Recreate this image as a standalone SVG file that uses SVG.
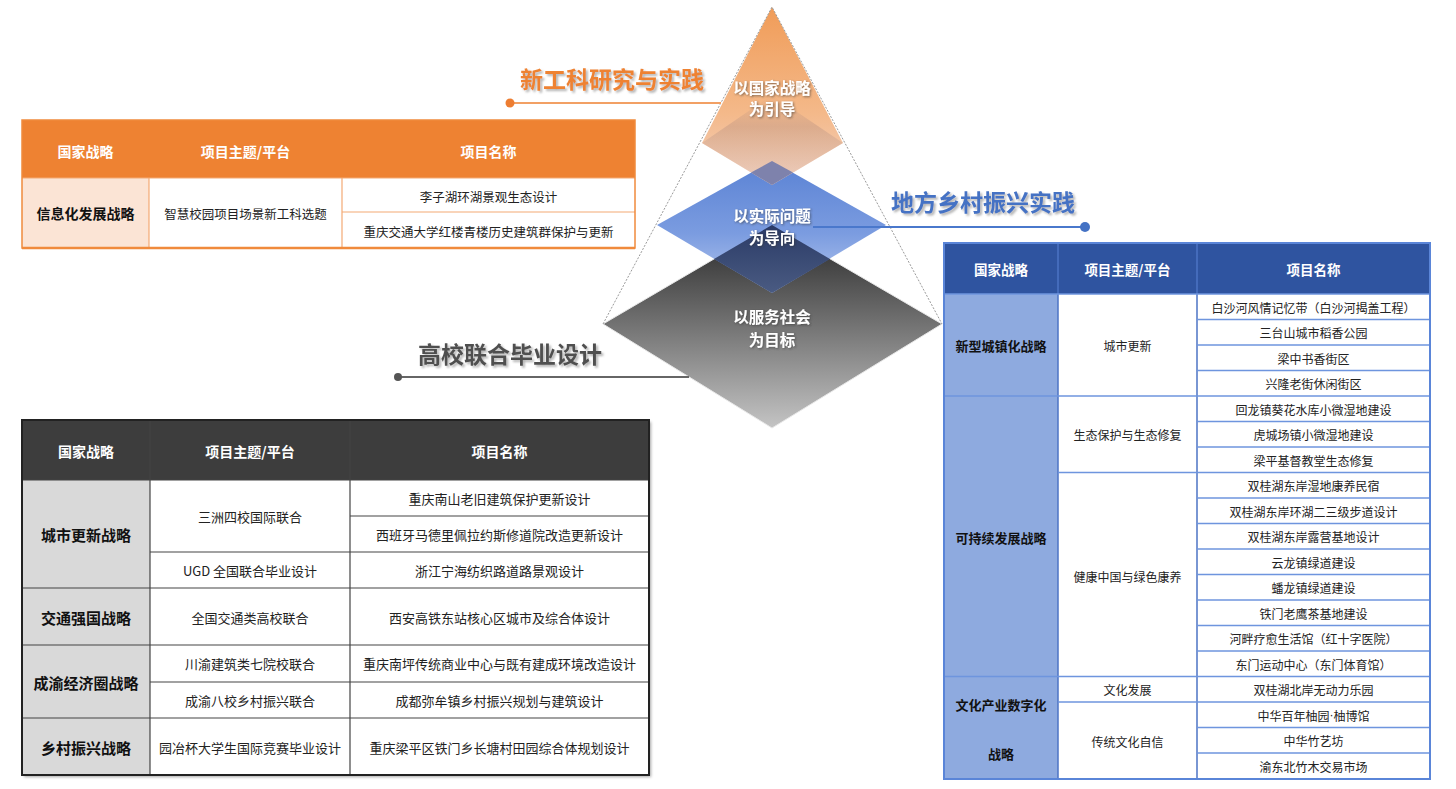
<svg xmlns="http://www.w3.org/2000/svg" width="1456" height="789" viewBox="0 0 1456 789">
<defs>
<style>
text{font-family:"Noto Sans CJK SC","Noto Sans",sans-serif;text-anchor:middle;dominant-baseline:central}
.th{font-size:14px;font-weight:bold;fill:#fff}
.sb{font-size:14px;font-weight:bold;fill:#111}
.c{font-size:12.5px;fill:#222}
.cb{font-size:12px;fill:#222}
.title{font-size:23px;font-weight:bold}
.py{font-size:15.5px;font-weight:bold;fill:#fff}
.ol{stroke:#f4a974;stroke-width:1.2;fill:none}
.gl{stroke:#444;stroke-width:1.2;fill:none}
.bl{stroke:#6e95de;stroke-width:1.5;fill:none}
.lat{font-family:"Liberation Sans",sans-serif}
</style>
<filter id="ts" x="-10%" y="-30%" width="130%" height="170%">
<feDropShadow dx="2" dy="2" stdDeviation="1" flood-color="#777" flood-opacity="0.55"/>
</filter>
<filter id="ws" x="-10%" y="-30%" width="130%" height="170%">
<feDropShadow dx="1" dy="1" stdDeviation="0.8" flood-color="#333" flood-opacity="0.6"/>
</filter>
<filter id="tabsh" x="-5%" y="-5%" width="110%" height="110%">
<feDropShadow dx="2" dy="2" stdDeviation="1.5" flood-color="#000" flood-opacity="0.35"/>
</filter>
<linearGradient id="gOr" x1="0" y1="0" x2="0" y2="1">
<stop offset="0" stop-color="#f09c58"/>
<stop offset="0.6" stop-color="#f4b98a"/>
<stop offset="1" stop-color="#f2d2c2"/>
</linearGradient>
<linearGradient id="gTan" x1="0" y1="0" x2="0" y2="1">
<stop offset="0" stop-color="#b89080" stop-opacity="0"/>
<stop offset="0.35" stop-color="#b89080" stop-opacity="0.4"/>
<stop offset="1" stop-color="#d8c0b8" stop-opacity="0.2"/>
</linearGradient>
<linearGradient id="gBl" x1="0" y1="0" x2="0" y2="1">
<stop offset="0" stop-color="#5a82d4"/>
<stop offset="0.55" stop-color="#7b9ce0"/>
<stop offset="1" stop-color="#b6c8ee"/>
</linearGradient>
<linearGradient id="gGr" x1="0" y1="0" x2="0" y2="1">
<stop offset="0" stop-color="#262626"/>
<stop offset="0.45" stop-color="#6c6c6c"/>
<stop offset="1" stop-color="#c4c4c4"/>
</linearGradient>
<linearGradient id="gNv" x1="0" y1="0" x2="0" y2="1">
<stop offset="0" stop-color="#2a3a66"/>
<stop offset="1" stop-color="#4a5b82"/>
</linearGradient>
</defs>
<rect width="1456" height="789" fill="#fff"/>

<g id="pyramid">
<polygon points="772,225 942,324 772,428 603,324" fill="url(#gGr)" stroke="#e8e8e8" stroke-width="1"/>
<polygon points="772,161 886,225 772,293 657,225" fill="url(#gBl)"/>
<polygon points="772,225 830,259 772,293 714,259" fill="url(#gNv)"/>
<polygon points="772,7 843,143 772,185 702,143" fill="url(#gOr)"/>
<polygon points="772,95 843,143 772,185 702,143" fill="url(#gTan)"/>
<polygon points="772,161 793,172.5 772,185 751,172.5" fill="#7e82ac"/>
<polyline points="603,324 772,7 942,324" fill="none" stroke="#9a9a9a" stroke-width="1" stroke-dasharray="2 1.5"/>
<text class="py" x="772" y="87" filter="url(#ws)">以国家战略</text>
<text class="py" x="772" y="108" filter="url(#ws)">为引导</text>
<text class="py" x="772" y="215" filter="url(#ws)">以实际问题</text>
<text class="py" x="772" y="237" filter="url(#ws)">为导向</text>
<text class="py" x="772" y="316" filter="url(#ws)">以服务社会</text>
<text class="py" x="772" y="339" filter="url(#ws)">为目标</text>
</g>

<g id="connectors">
<line x1="510" y1="103" x2="721" y2="103" stroke="#f2a064" stroke-width="2"/>
<circle cx="510" cy="103" r="4.5" fill="#ed7d31"/>
<line x1="813" y1="227" x2="1085" y2="227" stroke="#4a78cc" stroke-width="2"/>
<circle cx="1085" cy="227" r="5" fill="#4472c4"/>
<line x1="398" y1="377" x2="689" y2="377" stroke="#666" stroke-width="2"/>
<circle cx="398" cy="377" r="4" fill="#555"/>
</g>

<g id="titles">
<text class="title" x="612" y="78" fill="#ee8232" filter="url(#ts)">新工科研究与实践</text>
<text class="title" x="983" y="201" fill="#4472c4" filter="url(#ts)">地方乡村振兴实践</text>
<text class="title" x="510" y="353" fill="#505050" filter="url(#ts)">高校联合毕业设计</text>
</g>

<g id="table-orange">
<rect x="22" y="120" width="613" height="58" fill="#ee8232"/>
<rect x="22" y="178" width="127" height="70" fill="#fbe4d5"/>
<rect x="149" y="178" width="486" height="70" fill="#fff"/>
<line class="ol" x1="149" y1="178" x2="149" y2="248"/>
<line class="ol" x1="342" y1="178" x2="342" y2="248"/>
<line class="ol" x1="342" y1="212" x2="635" y2="212"/>
<line class="ol" x1="22" y1="178" x2="635" y2="178"/>
<rect x="22" y="120" width="613" height="128" fill="none" stroke="#f08a3c" stroke-width="1.5"/>
<line x1="22" y1="248" x2="635" y2="248" stroke="#f08a3c" stroke-width="2.5"/>
<text class="th" x="85.5" y="151">国家战略</text>
<text class="th" x="245.5" y="151">项目主题/平台</text>
<text class="th" x="488.5" y="151">项目名称</text>
<text class="sb" x="85.5" y="213">信息化发展战略</text>
<text class="c" x="245.5" y="213">智慧校园项目场景新工科选题</text>
<text class="c" x="488.5" y="196">李子湖环湖景观生态设计</text>
<text class="c" x="488.5" y="231">重庆交通大学红楼青楼历史建筑群保护与更新</text>
</g>

<g id="table-gray">
<rect x="22" y="420" width="627" height="355" fill="#fff" filter="url(#tabsh)"/>
<rect x="22" y="420" width="627" height="60" fill="#3d3d3d"/>
<rect x="22" y="480" width="128" height="295" fill="#d9d9d9"/>
<line class="gl" x1="150" y1="420" x2="150" y2="775"/>
<line class="gl" x1="350" y1="420" x2="350" y2="775"/>
<line class="gl" x1="22" y1="480" x2="649" y2="480"/>
<line class="gl" x1="350" y1="516" x2="649" y2="516"/>
<line class="gl" x1="150" y1="552" x2="649" y2="552"/>
<line class="gl" x1="22" y1="588" x2="649" y2="588"/>
<line class="gl" x1="22" y1="645" x2="649" y2="645"/>
<line class="gl" x1="150" y1="682" x2="649" y2="682"/>
<line class="gl" x1="22" y1="718" x2="649" y2="718"/>
<rect x="22" y="420" width="627" height="355" fill="none" stroke="#222" stroke-width="2"/>
<text class="th" x="86" y="451">国家战略</text>
<text class="th" x="250" y="451">项目主题/平台</text>
<text class="th" x="499.5" y="451">项目名称</text>
<text class="sb" x="86" y="534" style="font-size:15px">城市更新战略</text>
<text class="sb" x="86" y="617" style="font-size:15px">交通强国战略</text>
<text class="sb" x="86" y="682" style="font-size:15px">成渝经济圈战略</text>
<text class="sb" x="86" y="747" style="font-size:15px">乡村振兴战略</text>
<text class="c" x="250" y="516" style="font-size:13px">三洲四校国际联合</text>
<text class="c" x="250" y="570" style="font-size:13px">UGD 全国联合毕业设计</text>
<text class="c" x="250" y="617" style="font-size:13px">全国交通类高校联合</text>
<text class="c" x="250" y="663" style="font-size:13px">川渝建筑类七院校联合</text>
<text class="c" x="250" y="700" style="font-size:13px">成渝八校乡村振兴联合</text>
<text class="c" x="250" y="747" style="font-size:13px">园冶杯大学生国际竞赛毕业设计</text>
<text class="c" x="499.5" y="498" style="font-size:13px">重庆南山老旧建筑保护更新设计</text>
<text class="c" x="499.5" y="534" style="font-size:13px">西班牙马德里佩拉约斯修道院改造更新设计</text>
<text class="c" x="499.5" y="570" style="font-size:13px">浙江宁海纺织路道路景观设计</text>
<text class="c" x="499.5" y="617" style="font-size:13px">西安高铁东站核心区城市及综合体设计</text>
<text class="c" x="499.5" y="663" style="font-size:13px">重庆南坪传统商业中心与既有建成环境改造设计</text>
<text class="c" x="499.5" y="700" style="font-size:13px">成都弥牟镇乡村振兴规划与建筑设计</text>
<text class="c" x="499.5" y="747" style="font-size:13px">重庆梁平区铁门乡长塘村田园综合体规划设计</text>
</g>

<g id="table-blue">
<rect x="944" y="243" width="486" height="536" fill="#fff"/>
<rect x="944" y="243" width="486" height="51" fill="#2f54a0"/>
<rect x="944" y="294" width="114" height="485" fill="#8eaadf"/>
<line class="bl" x1="1058" y1="243" x2="1058" y2="779" style="stroke:#4d73c4"/>
<line class="bl" x1="1197" y1="243" x2="1197" y2="779" style="stroke:#4d73c4"/>
<g class="bl">
<line x1="944" y1="294" x2="1430" y2="294"/>
<line x1="1197" y1="319.5" x2="1430" y2="319.5"/>
<line x1="1197" y1="345" x2="1430" y2="345"/>
<line x1="1197" y1="370.5" x2="1430" y2="370.5"/>
<line x1="944" y1="396" x2="1430" y2="396"/>
<line x1="1197" y1="421.5" x2="1430" y2="421.5"/>
<line x1="1197" y1="447" x2="1430" y2="447"/>
<line x1="1058" y1="472.5" x2="1430" y2="472.5"/>
<line x1="1197" y1="498" x2="1430" y2="498"/>
<line x1="1197" y1="523.5" x2="1430" y2="523.5"/>
<line x1="1197" y1="549" x2="1430" y2="549"/>
<line x1="1197" y1="574.5" x2="1430" y2="574.5"/>
<line x1="1197" y1="600" x2="1430" y2="600"/>
<line x1="1197" y1="625.5" x2="1430" y2="625.5"/>
<line x1="1197" y1="651" x2="1430" y2="651"/>
<line x1="944" y1="676.5" x2="1430" y2="676.5"/>
<line x1="1058" y1="702" x2="1430" y2="702"/>
<line x1="1197" y1="727.5" x2="1430" y2="727.5"/>
<line x1="1197" y1="753" x2="1430" y2="753"/>
</g>
<rect x="944" y="243" width="486" height="536" fill="none" stroke="#5a85d8" stroke-width="2"/>
<text class="th" x="1001" y="269" style="font-size:13.5px">国家战略</text>
<text class="th" x="1127.5" y="269" style="font-size:13.5px">项目主题/平台</text>
<text class="th" x="1313.5" y="269" style="font-size:13.5px">项目名称</text>
<text class="sb" x="1001" y="345" style="font-size:13px">新型城镇化战略</text>
<text class="sb" x="1001" y="537" style="font-size:13px">可持续发展战略</text>
<text class="sb" x="1001" y="704" style="font-size:13px">文化产业数字化</text>
<text class="sb" x="1001" y="753" style="font-size:13px">战略</text>
<text class="cb" x="1127.5" y="345">城市更新</text>
<text class="cb" x="1127.5" y="434">生态保护与生态修复</text>
<text class="cb" x="1127.5" y="576">健康中国与绿色康养</text>
<text class="cb" x="1127.5" y="689">文化发展</text>
<text class="cb" x="1127.5" y="741">传统文化自信</text>
<text class="cb" x="1313.5" y="307">白沙河风情记忆带（白沙河揭盖工程）</text>
<text class="cb" x="1313.5" y="332.5">三台山城市稻香公园</text>
<text class="cb" x="1313.5" y="358">梁中书香街区</text>
<text class="cb" x="1313.5" y="383.5">兴隆老街休闲街区</text>
<text class="cb" x="1313.5" y="409">回龙镇葵花水库小微湿地建设</text>
<text class="cb" x="1313.5" y="434.5">虎城场镇小微湿地建设</text>
<text class="cb" x="1313.5" y="460">梁平基督教堂生态修复</text>
<text class="cb" x="1313.5" y="485.5">双桂湖东岸湿地康养民宿</text>
<text class="cb" x="1313.5" y="511">双桂湖东岸环湖二三级步道设计</text>
<text class="cb" x="1313.5" y="536.5">双桂湖东岸露营基地设计</text>
<text class="cb" x="1313.5" y="562">云龙镇绿道建设</text>
<text class="cb" x="1313.5" y="587.5">蟠龙镇绿道建设</text>
<text class="cb" x="1313.5" y="613">铁门老鹰茶基地建设</text>
<text class="cb" x="1313.5" y="638.5">河畔疗愈生活馆（红十字医院）</text>
<text class="cb" x="1313.5" y="664">东门运动中心（东门体育馆）</text>
<text class="cb" x="1313.5" y="689.5">双桂湖北岸无动力乐园</text>
<text class="cb" x="1313.5" y="715">中华百年柚园<tspan class="lat">·</tspan>柚博馆</text>
<text class="cb" x="1313.5" y="740.5">中华竹艺坊</text>
<text class="cb" x="1313.5" y="766">渝东北竹木交易市场</text>
</g>
</svg>
